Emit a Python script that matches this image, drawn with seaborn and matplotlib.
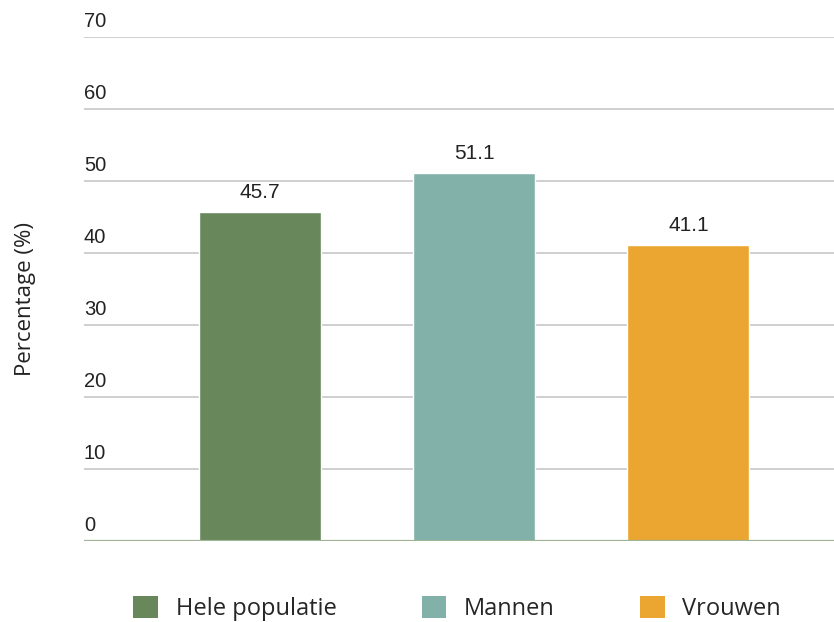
import matplotlib
matplotlib.use("Agg")
import matplotlib.pyplot as plt
import matplotlib.transforms as mtransforms
from matplotlib.patches import Patch
import seaborn as sns
import pandas as pd

# Data
categories = ["Hele populatie", "Mannen", "Vrouwen"]
values = [45.7, 51.1, 41.1]
colors = ["#68875B", "#82B1AA", "#EBA631"]
y_ticks = [0, 10, 20, 30, 40, 50, 60, 70]
y_label = "Percentage (%)"

df = pd.DataFrame({"groep": categories, "pct": values})

sns.set_theme(style="white")
plt.rcParams["font.family"] = ["Liberation Sans", "DejaVu Sans"]

fig = plt.figure(figsize=(8.34, 6.22), dpi=100)
ax = fig.add_axes([0.1007, 0.1302, 0.8993, 0.8103])

sns.barplot(data=df, x="groep", y="pct", hue="groep", palette=colors,
            order=categories, hue_order=categories, width=0.57,
            legend=False, saturation=1, ax=ax, zorder=3)

ax.set_ylim(0, 70)
ax.set_xlim(-0.822, 2.68)
ax.set_yticks(y_ticks)
ax.set_yticklabels([])
ax.tick_params(axis="both", length=0)
ax.set_xticks([])
ax.set_xlabel("")
ax.set_ylabel("")

# horizontal gridlines
for v in y_ticks[1:]:
    ax.axhline(v, color="#cfcfcf", lw=1.4, zorder=1)
ax.axhline(0, color="#9db594", lw=1.6, zorder=4)

for side in ["top", "right", "left", "bottom"]:
    ax.spines[side].set_visible(False)

# tick labels sit just above their gridlines
trans = mtransforms.blended_transform_factory(ax.transAxes, ax.transData)
offset = mtransforms.ScaledTranslation(0, 4 / 72, fig.dpi_scale_trans)
for v in y_ticks:
    ax.text(0.0, v, str(v), transform=trans + offset, ha="left", va="bottom",
            fontsize=14.5, color="#222222")

# value labels above bars
for i, v in enumerate(values):
    ax.annotate(f"{v:.1f}", (i, v), xytext=(0, 7), textcoords="offset points",
                ha="center", va="bottom", fontsize=15, color="#222222")

fig.text(0.030, 0.519, y_label, rotation=90, ha="center", va="center",
         fontsize=16, color="#222222", family=["Open Sans", "DejaVu Sans"])

handles = [Patch(facecolor=c, edgecolor="none") for c in colors]
fig.legend(handles, categories, loc="center", bbox_to_anchor=(0.548, 0.022),
           ncol=3, frameon=False, handlelength=1.05, handleheight=1.05,
           handletextpad=0.75, columnspacing=3.6,
           prop={"family": ["Open Sans", "DejaVu Sans"], "size": 17})

fig.savefig("out.png", dpi=100)
